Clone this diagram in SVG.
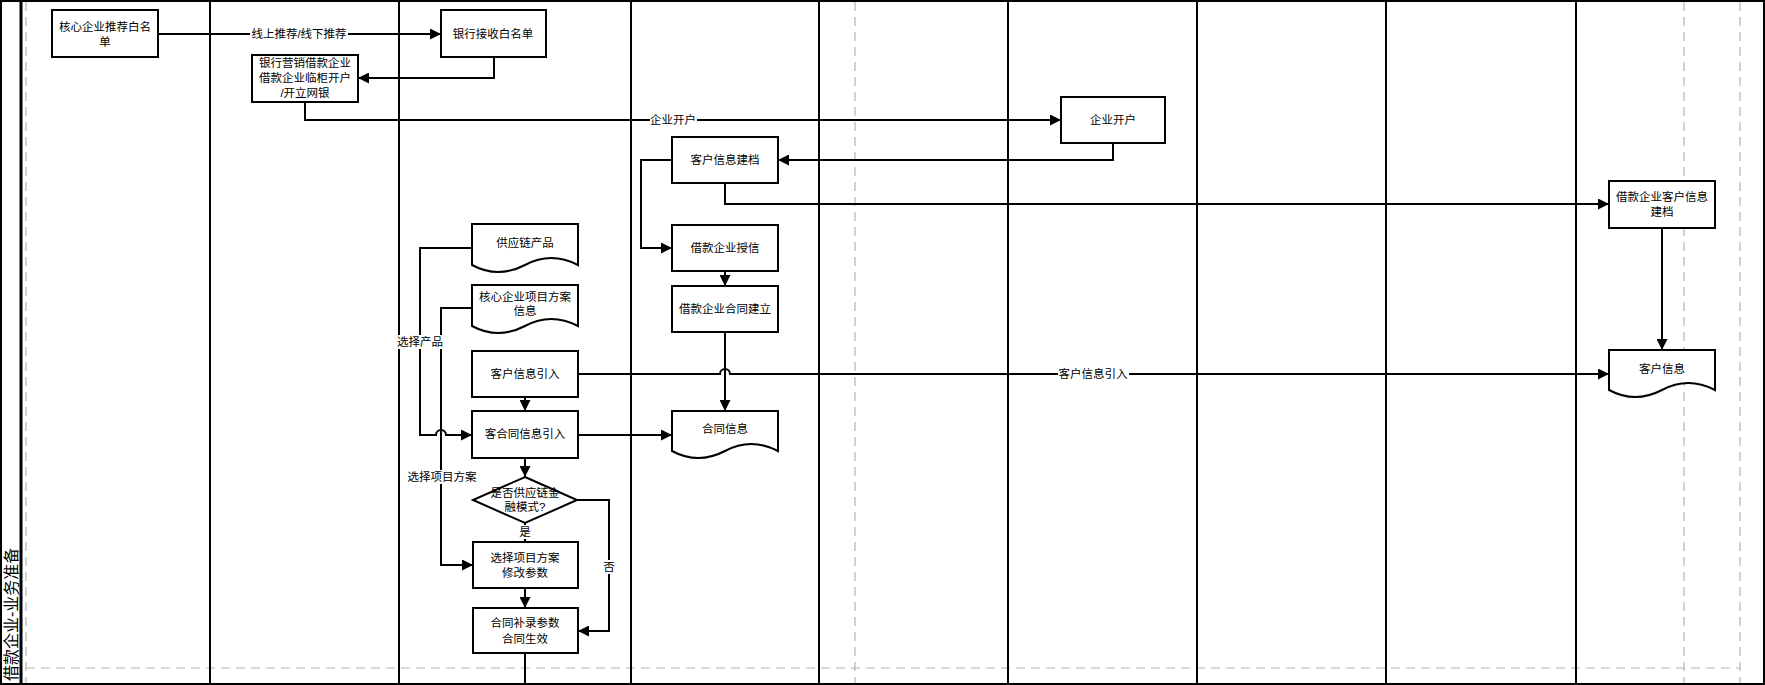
<svg xmlns="http://www.w3.org/2000/svg" width="1765" height="685" viewBox="0 0 1765 685">
<style>
.lane{stroke:#000;stroke-width:2;fill:none}
.dash{stroke:#b4b4b4;stroke-width:1.2;stroke-dasharray:9 6;fill:none}
.box{fill:#fff;stroke:#000;stroke-width:2}
.t{font-family:"Liberation Sans","Noto Sans CJK SC",sans-serif;font-size:11.5px;text-anchor:middle;dominant-baseline:central;fill:#000}
.title{font-family:"Liberation Sans","Noto Sans CJK SC",sans-serif;font-size:16px;dominant-baseline:central;fill:#000}
.conn{fill:none;stroke:#000;stroke-width:2}
.lb{fill:#fff}
</style>
<defs>
<marker id="arr" markerUnits="userSpaceOnUse" markerWidth="11" markerHeight="11" refX="11" refY="5.5" orient="auto">
<path d="M0,0 L11,5.5 L0,11 z" fill="#000"/>
</marker>
</defs>
<rect x="0" y="0" width="1765" height="685" fill="#fff"/>
<g id="pool">
<line class="dash" x1="26" y1="2" x2="26" y2="683"/>
<line class="dash" x1="855" y1="2" x2="855" y2="683"/>
<line class="dash" x1="1684" y1="2" x2="1684" y2="683"/>
<line class="dash" x1="1740" y1="2" x2="1740" y2="683"/>
<line class="dash" x1="26" y1="668" x2="1740" y2="668"/>
<rect x="1" y="1" width="1763" height="683" fill="none" stroke="#000" stroke-width="2"/>
<line x1="21" y1="0" x2="21" y2="685" stroke="#000" stroke-width="3"/>
<line class="lane" x1="210" y1="0" x2="210" y2="685"/>
<line class="lane" x1="399" y1="0" x2="399" y2="685"/>
<line class="lane" x1="631" y1="0" x2="631" y2="685"/>
<line class="lane" x1="819" y1="0" x2="819" y2="685"/>
<line class="lane" x1="1008" y1="0" x2="1008" y2="685"/>
<line class="lane" x1="1197" y1="0" x2="1197" y2="685"/>
<line class="lane" x1="1386" y1="0" x2="1386" y2="685"/>
<line class="lane" x1="1576" y1="0" x2="1576" y2="685"/>
<text class="title" transform="translate(11,681) rotate(-90)">借款企业-业务准备</text>
</g>
<g id="connectors">
<path class="conn" d="M158,34 H441" marker-end="url(#arr)"/>
<path class="conn" d="M494,57 V78 H358" marker-end="url(#arr)"/>
<path class="conn" d="M305,102 V120 H1061" marker-end="url(#arr)"/>
<path class="conn" d="M1113,143 V160 H778" marker-end="url(#arr)"/>
<path class="conn" d="M672,160 H641 V248 H672" marker-end="url(#arr)"/>
<path class="conn" d="M725,183 V204 H1609" marker-end="url(#arr)"/>
<path class="conn" d="M725,271 V286" marker-end="url(#arr)"/>
<path class="conn" d="M725,332 V411" marker-end="url(#arr)"/>
<path class="conn" d="M578,374 H720 a5,5 0 0 1 10,0 H1609" marker-end="url(#arr)"/>
<path class="conn" d="M525,397 V411" marker-end="url(#arr)"/>
<path class="conn" d="M578,435 H672" marker-end="url(#arr)"/>
<path class="conn" d="M472,248 H420 V435 H436 a5,5 0 0 1 10,0 H472" marker-end="url(#arr)"/>
<path class="conn" d="M472,308 H441 V565 H473" marker-end="url(#arr)"/>
<path class="conn" d="M525,458 V477" marker-end="url(#arr)"/>
<path class="conn" d="M525,523 V542" marker-end="url(#arr)"/>
<path class="conn" d="M525,588 V608" marker-end="url(#arr)"/>
<path class="conn" d="M577,500 H609 V631 H578" marker-end="url(#arr)"/>
<path class="conn" d="M525,653 V684"/>
<path class="conn" d="M1662,228 V350" marker-end="url(#arr)"/>
<rect class="lb" x="250" y="27" width="98" height="14"/>
<text class="t" x="299" y="34">线上推荐/线下推荐</text>
<rect class="lb" x="650" y="113" width="47" height="14"/>
<text class="t" x="673" y="120">企业开户</text>
<rect class="lb" x="1058" y="367" width="71" height="14"/>
<text class="t" x="1093" y="374">客户信息引入</text>
<rect class="lb" x="396" y="335" width="48" height="14"/>
<text class="t" x="420" y="342">选择产品</text>
<rect class="lb" x="406" y="470" width="72" height="14"/>
<text class="t" x="442" y="477">选择项目方案</text>
<rect class="lb" x="518" y="525" width="14" height="14"/>
<text class="t" x="525" y="532">是</text>
<rect class="lb" x="602" y="560" width="14" height="14"/>
<text class="t" x="609" y="567">否</text>
</g>
<g id="n1"><rect class="box" x="52" y="10" width="106" height="47"/><text class="t" x="105" y="27">核心企业推荐白名</text><text class="t" x="105" y="42">单</text></g>
<g id="n2"><rect class="box" x="441" y="10" width="105" height="47"/><text class="t" x="493" y="34">银行接收白名单</text></g>
<g id="n3"><rect class="box" x="252" y="55" width="106" height="47"/><text class="t" x="305" y="63">银行营销借款企业</text><text class="t" x="305" y="78">借款企业临柜开户</text><text class="t" x="305" y="93">/开立网银</text></g>
<g id="n4"><rect class="box" x="1061" y="97" width="104" height="46"/><text class="t" x="1113" y="120">企业开户</text></g>
<g id="n5"><rect class="box" x="672" y="137" width="106" height="46"/><text class="t" x="725" y="160">客户信息建档</text></g>
<g id="n6"><rect class="box" x="1609" y="181" width="106" height="47"/><text class="t" x="1662" y="197">借款企业客户信息</text><text class="t" x="1662" y="212">建档</text></g>
<g id="n7"><rect class="box" x="672" y="225" width="106" height="46"/><text class="t" x="725" y="248">借款企业授信</text></g>
<g id="n8"><rect class="box" x="672" y="286" width="106" height="46"/><text class="t" x="725" y="309">借款企业合同建立</text></g>
<g id="n9"><path class="box" d="M472,224 H578 V265 Q551,251 525,265 Q498,279 472,265 Z"/><text class="t" x="525" y="243">供应链产品</text></g>
<g id="n10"><path class="box" d="M472,285 H578 V326 Q551,312 525,326 Q498,340 472,326 Z"/><text class="t" x="525" y="297">核心企业项目方案</text><text class="t" x="525" y="311">信息</text></g>
<g id="n11"><rect class="box" x="472" y="351" width="106" height="46"/><text class="t" x="525" y="374">客户信息引入</text></g>
<g id="n12"><path class="box" d="M1609,350 H1715 V390 Q1688,376 1662,390 Q1635,404 1609,390 Z"/><text class="t" x="1662" y="369">客户信息</text></g>
<g id="n13"><rect class="box" x="472" y="411" width="106" height="47"/><text class="t" x="525" y="434">客合同信息引入</text></g>
<g id="n14"><path class="box" d="M672,411 H778 V451 Q751,437 725,451 Q698,465 672,451 Z"/><text class="t" x="725" y="429">合同信息</text></g>
<g id="n15"><path class="box" d="M525,477 L577,500 L525,523 L473,500 Z"/><text class="t" x="525" y="493">是否供应链金</text><text class="t" x="525" y="507">融模式?</text></g>
<g id="n16"><rect class="box" x="473" y="542" width="105" height="46"/><text class="t" x="525" y="558">选择项目方案</text><text class="t" x="525" y="573">修改参数</text></g>
<g id="n17"><rect class="box" x="473" y="608" width="105" height="45"/><text class="t" x="525" y="623">合同补录参数</text><text class="t" x="525" y="639">合同生效</text></g>
</svg>
